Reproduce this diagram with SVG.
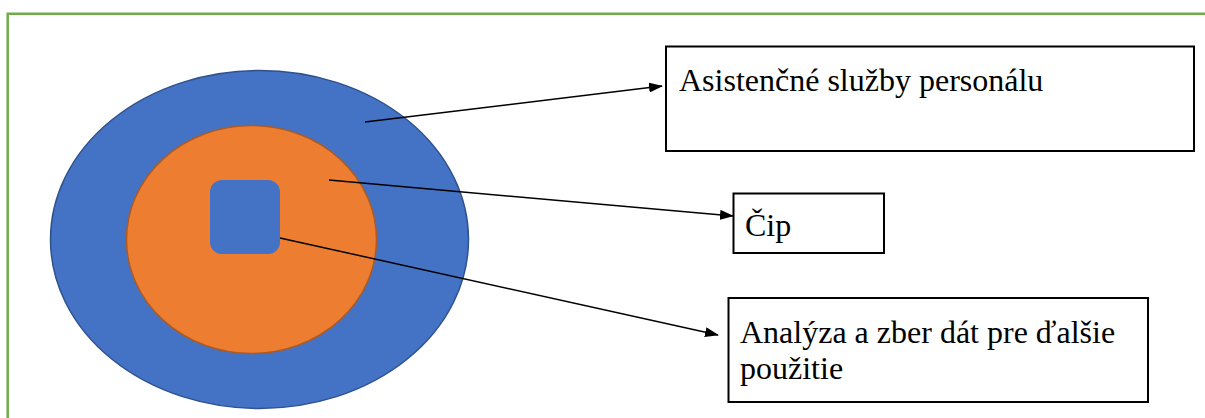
<svg xmlns="http://www.w3.org/2000/svg" width="1205" height="418" viewBox="0 0 1205 418">
<style>
.lbl{font-family:"Liberation Serif","Times New Roman",serif;font-size:32px;fill:#000}
.box{fill:#fff;stroke:#000;stroke-width:2}
.con{stroke:#000;stroke-width:1.5;fill:none;marker-end:url(#ah)}
</style>
<defs>
<marker id="ah" markerWidth="14" markerHeight="10" refX="13" refY="5" orient="auto" markerUnits="userSpaceOnUse">
<path d="M0,0 L14,5 L0,10 z" fill="#000"/>
</marker>
</defs>
<rect width="1205" height="418" fill="#fff"/>
<path d="M7.7,418 V13.7 H1205" fill="none" stroke="#70AD47" stroke-width="2.5"/>
<g id="outer"><ellipse cx="259.5" cy="239.5" rx="209" ry="169" fill="#4472C4" stroke="#2F528F" stroke-width="1.5"/></g>
<g id="middle"><ellipse cx="251.5" cy="239.5" rx="125" ry="114" fill="#ED7D31" stroke="#AE5A21" stroke-width="1.5"/></g>
<g id="inner"><rect x="210" y="180" width="70" height="74" rx="12" fill="#4472C4"/></g>
<g id="connectors">
<line class="con" x1="365" y1="122" x2="662" y2="86"/>
<line class="con" x1="329" y1="180" x2="733" y2="216"/>
<line class="con" x1="280" y1="238" x2="718" y2="335"/>
</g>
<g id="box1"><rect class="box" x="666" y="46.5" width="528" height="104.5"/><text class="lbl" x="679" y="91">Asistenčné služby personálu</text></g>
<g id="box2"><rect class="box" x="733.5" y="193.5" width="150.5" height="59.5"/><text class="lbl" x="745" y="236">Čip</text></g>
<g id="box3"><rect class="box" x="728.5" y="298" width="419.5" height="104"/><text class="lbl" x="740" y="343">Analýza a zber dát pre ďalšie</text><text class="lbl" x="740" y="379">použitie</text></g>
</svg>
